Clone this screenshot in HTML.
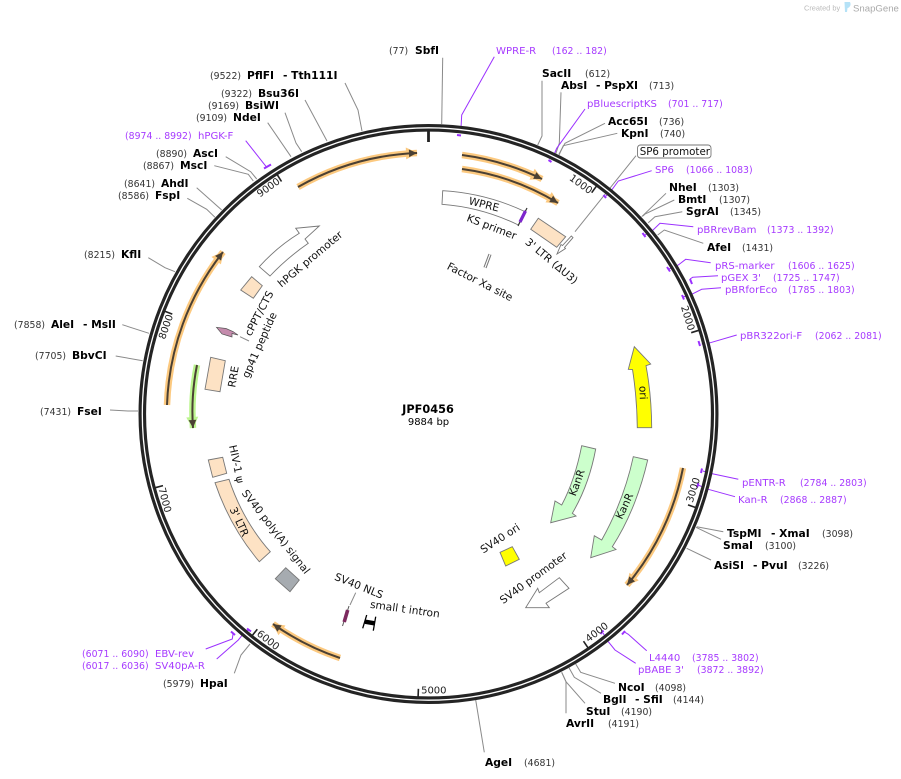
<!DOCTYPE html>
<html>
<head>
<meta charset="utf-8">
<style>
html,body{margin:0;padding:0;background:#fff;width:901px;height:779px;overflow:hidden}
svg{display:block}
text{font-family:"DejaVu Sans","Liberation Sans",sans-serif;fill:#000}
.n{font-size:10.7px;font-weight:bold}
.p{font-size:9.33px;fill:#333}
.m{font-size:10.1px;fill:#a63aff}
.r{font-size:9.33px;fill:#a63aff}
.f{font-size:10.6px;text-anchor:middle;fill:#111}
.t{font-size:10px;text-anchor:middle;fill:#222}
.l{fill:none;stroke:#8a8a8a;stroke-width:1}
.v{fill:none;stroke:#9b30ff;stroke-width:1}
.k{fill:none;stroke:#9b30ff;stroke-width:2}
.b{stroke:#777;stroke-width:.9}
.h{fill:none;stroke:#fcc97f;stroke-width:6.5}
.d{fill:none;stroke:#4b4033;stroke-width:2}
</style>
</head>
<body>
<svg width="901" height="779" viewBox="0 0 901 779" xmlns="http://www.w3.org/2000/svg">
<defs>
<marker id="ho" markerUnits="userSpaceOnUse" markerWidth="18" markerHeight="18" refX="13" refY="9" orient="auto"><path d="M2,3 L14,9 L2,15 Z" fill="#fcc97f"/></marker>
<marker id="da" markerUnits="userSpaceOnUse" markerWidth="14" markerHeight="14" refX="10" refY="7" orient="auto"><path d="M2,3.2 L10,7 L2,10.8 Z" fill="#4b4033"/></marker>
<marker id="hg" markerUnits="userSpaceOnUse" markerWidth="18" markerHeight="18" refX="13" refY="9" orient="auto"><path d="M2,3 L14,9 L2,15 Z" fill="#bcf58f"/></marker>
</defs>

<!-- logo -->
<text x="804" y="10.5" style="font-size:7.4px;fill:#bbb;font-family:'Liberation Sans',sans-serif">Created by</text>
<path d="M844.5,2 L850,2 Q851.5,5 849,7.5 L847.5,8 L847,12 L845,12 Z" fill="#b5e2f7"/>
<text x="853" y="11.5" style="font-size:9.6px;fill:#aaa;font-family:'Liberation Sans',sans-serif">SnapGene</text>

<!-- leader lines -->
<g class="l">
<path d="M442.7,57.7 L441.7,124"/>
<path d="M542,80.7 L542,136 L537.7,145"/>
<path d="M561,92.3 L559.3,143.3 L555.7,154"/>
<path d="M605,123.3 L565,143.3 L559,154"/>
<path d="M617.3,133.3 L563.3,145.7 L559,155"/>
<path d="M636,155.7 L575,231.7"/>
<path d="M666,193.3 L641.7,216.7"/>
<path d="M674.3,200 L645,214 L643,216"/>
<path d="M682.3,211.7 L655,216.7 L648.3,222.7"/>
<path d="M703.3,243.3 L664.3,230 L657.7,235"/>
<path d="M723.3,531.7 L696.7,526.7"/>
<path d="M721,539.3 L696,527.3"/>
<path d="M711,560 L686.7,548.3"/>
<path d="M615,683.3 L580.7,672.3 L575.7,664"/>
<path d="M601,693.3 L574.3,677.3 L569,667.7"/>
<path d="M585,703.3 L566,681.7 L561.7,672.3"/>
<path d="M566,713.3 L566,681.7 L561.7,672.3"/>
<path d="M484.3,752.3 L475.7,700"/>
<path d="M234.3,673.3 L241,655 L250,644"/>
<path d="M110,410 L128,411 L138,411"/>
<path d="M115.7,356 L142.7,360.7"/>
<path d="M122.3,324.7 L149,333.3"/>
<path d="M148.3,257.7 L165,267.7 L175,271.7"/>
<path d="M187.3,198.3 L206.7,209.3 L215,217.3"/>
<path d="M196.7,187.7 L221.7,210"/>
<path d="M214.3,165.7 L248.3,174.3 L253.3,181"/>
<path d="M225.7,156.7 L250.7,171.7 L256.7,179"/>
<path d="M267.7,122.7 L291,156.7"/>
<path d="M285,112.7 L296,143 L301.7,151.7"/>
<path d="M305,100 L327,141"/>
<path d="M345,83 L358,110 L362,131"/>
</g>

<!-- primer leaders -->
<g class="v">
<path d="M494.3,56.7 L461.7,115 L461,128"/>
<path d="M585,109 L556.7,148.3 L553,157"/>
<path d="M651.7,170.7 L618.3,181 L611.7,190 L606,196"/>
<path d="M693.3,226.7 L660,223.3 L652.3,230.7 L645,235"/>
<path d="M710.7,262.7 L685.7,259.3 L678.3,265 L669,269"/>
<path d="M718,275.7 L692.7,277.3 L690,279"/>
<path d="M721,287.7 L701.7,289.3 L691.7,294.3 L683,297"/>
<path d="M736.7,335 L708.3,343.3 L701.7,344"/>
<path d="M738.3,479.3 L710,473.3 L703,471"/>
<path d="M735,496.7 L708.3,489.3 L698,485"/>
<path d="M646.7,650.7 L628.3,634.3 L625,632.3"/>
<path d="M635.7,663.3 L615,650 L608.3,641.7 L603,633"/>
<path d="M205.7,649 L232.3,639 L233,634"/>
<path d="M216.7,659 L238.3,640 L245,631.7 L249,630"/>
<path d="M245.7,140.7 L266.7,167.3"/>
</g>
<g class="k">
<path d="M457,135 L461,135.5"/>
<path d="M548.5,160 L551.5,162"/>
<path d="M603.5,195 L606,198"/>
<path d="M642.5,233 L645.5,237"/>
<path d="M667,267 L670,271.5"/>
<path d="M690,279 L692,284"/>
<path d="M682,295 L684,299.5"/>
<path d="M698.5,341 L700,346"/>
<path d="M702,468.5 L701,473"/>
<path d="M698.5,483 L697,487.5"/>
<path d="M625,631 L622,634.5"/>
<path d="M603.5,630.5 L600.5,634"/>
<path d="M235,635 L231,631.5"/>
<path d="M251,631.5 L247,628.5"/>
<path d="M264,168.5 L271,164.5"/>
</g>

<!-- main ring -->
<circle cx="428.5" cy="414" r="286.2" fill="none" stroke="#242424" stroke-width="7.6"/>
<circle cx="428.5" cy="414" r="286.2" fill="none" stroke="#fff" stroke-width="1.3"/>

<!-- ticks -->
<g fill="none" stroke="#222" stroke-width="1.6">
<path d="M428.5,130.5 L428.5,142" stroke-width="2.8"/>
<path d="M596.4,186.2 L591.7,192.7"/>
<path d="M698.8,330.3 L691.2,332.7"/>
<path d="M695.6,507.5 L688,504.9"/>
<path d="M588,647.8 L583.5,641.2"/>
<path d="M418.1,696.8 L418.4,688.8"/>
<path d="M252.3,635.5 L257.3,629.2"/>
<path d="M155.3,487.7 L163,485.6"/>
<path d="M164.8,311.2 L172.3,314.1"/>
<path d="M277.3,174.8 L281.5,181.5"/>
</g>
<g class="t">
<text class="t" transform="translate(581,184) rotate(36)" dy=".35em">1000</text>
<text class="t" transform="translate(688,318) rotate(73)" dy=".35em">2000</text>
<text class="t" transform="translate(693,490) rotate(-73)" dy=".35em">3000</text>
<text class="t" transform="translate(596.7,632) rotate(-37)" dy=".35em">4000</text>
<text class="t" transform="translate(433.8,690)" dy=".35em">5000</text>
<text class="t" transform="translate(268.3,640) rotate(38)" dy=".35em">6000</text>
<text class="t" transform="translate(165,500) rotate(75)" dy=".35em">7000</text>
<text class="t" transform="translate(165.7,326.7) rotate(-71)" dy=".35em">8000</text>
<text class="t" transform="translate(268.3,187.3) rotate(-35)" dy=".35em">9000</text>
</g>

<!-- primer binding arrows -->
<g>
<path class="h" d="M298,187 A262,262 0 0 1 417,153" marker-end="url(#ho)"/>
<path class="d" d="M298,187 A262,262 0 0 1 417,153" marker-end="url(#da)"/>
<path class="h" d="M462,155 A261,261 0 0 1 542,179" marker-end="url(#ho)"/>
<path class="d" d="M462,155 A261,261 0 0 1 542,179" marker-end="url(#da)"/>
<path class="h" d="M462,169 A248,248 0 0 1 558,203" marker-end="url(#ho)"/>
<path class="d" d="M462,169 A248,248 0 0 1 558,203" marker-end="url(#da)"/>
<path class="h" d="M167,405 A262,262 0 0 1 223,252" marker-end="url(#ho)"/>
<path class="d" d="M167,405 A262,262 0 0 1 223,252" marker-end="url(#da)"/>
<path class="h" d="M197,365 A236,236 0 0 0 193,428" marker-end="url(#hg)" style="stroke:#bcf58f"/>
<path class="d" d="M197,365 A236,236 0 0 0 193,428" marker-end="url(#da)"/>
<path class="h" d="M683,468 A260,260 0 0 1 627,585" marker-end="url(#ho)"/>
<path class="d" d="M683,468 A260,260 0 0 1 627,585" marker-end="url(#da)"/>
<path class="h" d="M340,658 A260,260 0 0 1 273,624" marker-end="url(#ho)"/>
<path class="d" d="M340,658 A260,260 0 0 1 273,624" marker-end="url(#da)"/>
</g>

<!-- features -->
<path class="b" d="M442.7,190.7 A224,224 0 0 1 525,211.6 L518.3,225 A209.5,209.5 0 0 0 442,204.3 Z" fill="#fff"/>
<path d="M518,226 L527,208" stroke="#333" stroke-width="1.2" fill="none"/>
<path d="M520,222 L525.5,211" stroke="#7d26cd" stroke-width="3.2" fill="none"/>
<path class="b" d="M538.3,218.3 L565.7,236.7 L556.7,247.3 L530.7,229.3 Z" fill="#fde2c4"/>
<path class="b" d="M571.3,236 L573,237.6 L564.5,247.5 L565.5,248.5 L557,254 L561,244.5 L562.5,245.5 Z" fill="#fff"/>
<path d="M490,254.3 L485,267.7" stroke="#777" stroke-width="3.2" fill="none"/>
<path d="M490,254.3 L485,267.7" stroke="#fff" stroke-width="1.2" fill="none"/>

<path class="b" d="M634.3,346.7 L650.7,364 L646,365.7 Q651.5,395 651.7,427.7 L637.3,427.7 Q637,398 632.5,369.5 L628.3,369.3 Z" fill="#ffff00"/>
<path class="b" d="M581.7,445.7 L595.7,449 Q589,485 572.3,513.3 L576,516 L550.7,522.7 L555,501 L561.7,505 Q575,480 581.7,445.7 Z" fill="#ccffcc"/>
<path class="b" d="M633.3,456.7 L647.7,460 Q636,510 612.3,546.7 L616,549.5 L590.7,557.7 L594.3,535.7 L601.7,540 Q624,500 633.3,456.7 Z" fill="#ccffcc"/>
<path class="b" d="M512.3,546.7 L519.3,559.3 L505.7,566 L500,552.3 Z" fill="#ffff00"/>
<path class="b" d="M559.3,577.7 L569,588.3 L546,603.3 L549.3,607.7 L525.7,607.7 L537.7,588.3 L539.3,592.7 Z" fill="#fff"/>
<path class="b" d="M259.3,266.7 L270,276 Q287,258 308.3,243.3 L305,239 L319.3,226 L295.7,228.3 L299.3,233.3 Q277,247 259.3,266.7 Z" fill="#fff"/>
<path class="b" d="M251.7,276.7 L262.3,285.7 L253.3,298.3 L240.7,290 Z" fill="#fde2c4"/>
<path d="M216.5,327.3 L226,328.5 L233,331.5 L238,335 L232,333.5 L232,337 L222,334 Z" fill="#c48bac" stroke="#555" stroke-width=".7"/>
<path class="l" d="M240,336.7 L249,341"/>
<path class="b" d="M210.7,357.3 L225.3,360.7 L220,391.7 L205,389.3 Z" fill="#fde2c4"/>
<path class="b" d="M208.3,460 L222.7,457.3 L226.7,473.3 L212.7,477.3 Z" fill="#fde2c4"/>
<path class="b" d="M215,482.7 L229,479.3 Q243,521 270.3,551.7 L259.3,561.7 Q230,527 215,482.7 Z" fill="#fde2c4"/>
<path class="b" d="M285.7,567.7 L299.3,580 L290,591.7 L275.3,578.7 Z" fill="#a6abb0"/>
<path class="l" d="M355.7,592.7 L350,605"/>
<path d="M349,606 L342.5,626" stroke="#555" stroke-width="1" fill="none"/>
<path d="M347.7,610 L344.2,622" stroke="#7d2a5f" stroke-width="3.6" fill="none"/>
<g stroke="#000" fill="none">
<path d="M366.7,615 L362.7,628.3" stroke-width="1.3"/>
<path d="M375.7,616.7 L373.3,630.7" stroke-width="1.3"/>
<path d="M365,621.7 L374.5,623.3" stroke-width="4.5"/>
</g>

<!-- feature labels -->
<text class="f" transform="translate(484,204.3) rotate(14)" dy=".35em">WPRE</text>
<text class="f" transform="translate(491.7,226.7) rotate(21)" dy=".35em">KS primer</text>
<text class="f" transform="translate(551.7,261) rotate(40)" dy=".35em">3' LTR (ΔU3)</text>
<text class="f" transform="translate(480,281.7) rotate(27)" dy=".35em">Factor Xa site</text>
<text class="f" transform="translate(643.3,392.7) rotate(88)" dy=".35em">ori</text>
<text class="f" transform="translate(576.7,482.7) rotate(-70)" dy=".35em">KanR</text>
<text class="f" transform="translate(624.3,506) rotate(-65)" dy=".35em">KanR</text>
<text class="f" transform="translate(500,538.3) rotate(-33)" dy=".35em">SV40 ori</text>
<text class="f" transform="translate(533.3,577.7) rotate(-36)" dy=".35em">SV40 promoter</text>
<text class="f" transform="translate(310,259) rotate(-40)" dy=".35em">hPGK promoter</text>
<text class="f" transform="translate(259,313.3) rotate(-62)" dy=".35em">cPPT/CTS</text>
<text class="f" transform="translate(259.3,345) rotate(-66)" dy=".35em">gp41 peptide</text>
<text class="f" transform="translate(233.3,376.7) rotate(-80)" dy=".35em">RRE</text>
<text class="f" transform="translate(236.7,464) rotate(78)" dy=".35em">HIV-1 ψ</text>
<text class="f" transform="translate(239.3,521.7) rotate(65)" dy=".35em">3' LTR</text>
<text class="f" transform="translate(276,531.7) rotate(52)" dy=".35em">SV40 poly(A) signal</text>
<text class="f" transform="translate(359,585.7) rotate(22)" dy=".35em">SV40 NLS</text>
<text class="f" transform="translate(405,609) rotate(8)" dy=".35em">small t intron</text>

<!-- SP6 promoter box -->
<rect x="637.5" y="145" width="73.5" height="13" rx="3" fill="#fff" stroke="#777" stroke-width=".9"/>
<text x="639.7" y="155" style="font-size:10.3px;fill:#111">SP6 promoter</text>

<!-- center -->
<text x="428" y="413" text-anchor="middle" style="font-size:11.3px;font-weight:bold">JPF0456</text>
<text x="428.5" y="425" text-anchor="middle" style="font-size:10px">9884 bp</text>

<!-- site labels -->
<text class="p" x="389" y="54">(77)</text><text class="n" x="415" y="54">SbfI</text>
<text class="m" x="496" y="54">WPRE-R</text><text class="r" x="552" y="54">(162 .. 182)</text>
<text class="n" x="542" y="77">SacII</text><text class="p" x="585" y="77">(612)</text>
<text class="n" x="561" y="89">AbsI</text><text class="n" x="596" y="89">- PspXI</text><text class="p" x="649" y="89">(713)</text>
<text class="m" x="587" y="107">pBluescriptKS</text><text class="r" x="668" y="107">(701 .. 717)</text>
<text class="n" x="608" y="125">Acc65I</text><text class="p" x="659" y="125">(736)</text>
<text class="n" x="621" y="137">KpnI</text><text class="p" x="660" y="137">(740)</text>
<text class="m" x="655" y="173">SP6</text><text class="r" x="686" y="173">(1066 .. 1083)</text>
<text class="n" x="669" y="191">NheI</text><text class="p" x="708" y="191">(1303)</text>
<text class="n" x="678" y="203">BmtI</text><text class="p" x="719" y="203">(1307)</text>
<text class="n" x="686" y="215">SgrAI</text><text class="p" x="730" y="215">(1345)</text>
<text class="m" x="697" y="233">pBRrevBam</text><text class="r" x="767" y="233">(1373 .. 1392)</text>
<text class="n" x="707" y="251">AfeI</text><text class="p" x="742" y="251">(1431)</text>
<text class="m" x="715" y="269">pRS-marker</text><text class="r" x="788" y="269">(1606 .. 1625)</text>
<text class="m" x="721" y="281">pGEX 3'</text><text class="r" x="773" y="281">(1725 .. 1747)</text>
<text class="m" x="725" y="293">pBRforEco</text><text class="r" x="788" y="293">(1785 .. 1803)</text>
<text class="m" x="740" y="339">pBR322ori-F</text><text class="r" x="815" y="339">(2062 .. 2081)</text>
<text class="m" x="742" y="486">pENTR-R</text><text class="r" x="800" y="486">(2784 .. 2803)</text>
<text class="m" x="738" y="503">Kan-R</text><text class="r" x="780" y="503">(2868 .. 2887)</text>
<text class="n" x="727" y="537">TspMI</text><text class="n" x="771" y="537">- XmaI</text><text class="p" x="822" y="537">(3098)</text>
<text class="n" x="723" y="549">SmaI</text><text class="p" x="765" y="549">(3100)</text>
<text class="n" x="714" y="569">AsiSI</text><text class="n" x="753" y="569">- PvuI</text><text class="p" x="798" y="569">(3226)</text>
<text class="m" x="649" y="661">L4440</text><text class="r" x="692" y="661">(3785 .. 3802)</text>
<text class="m" x="638" y="673">pBABE 3'</text><text class="r" x="697" y="673">(3872 .. 3892)</text>
<text class="n" x="618" y="691">NcoI</text><text class="p" x="655" y="691">(4098)</text>
<text class="n" x="603" y="703">BglI</text><text class="n" x="635" y="703">- SfiI</text><text class="p" x="673" y="703">(4144)</text>
<text class="n" x="586" y="715">StuI</text><text class="p" x="621" y="715">(4190)</text>
<text class="n" x="566" y="727">AvrII</text><text class="p" x="608" y="727">(4191)</text>
<text class="n" x="485" y="766">AgeI</text><text class="p" x="524" y="766">(4681)</text>
<text class="p" x="163" y="687">(5979)</text><text class="n" x="200" y="687">HpaI</text>
<text class="r" x="82" y="657">(6071 .. 6090)</text><text class="m" x="155" y="657">EBV-rev</text>
<text class="r" x="82" y="669">(6017 .. 6036)</text><text class="m" x="155" y="669">SV40pA-R</text>
<text class="p" x="40" y="415">(7431)</text><text class="n" x="77" y="415">FseI</text>
<text class="p" x="35" y="359">(7705)</text><text class="n" x="72" y="359">BbvCI</text>
<text class="p" x="14" y="328">(7858)</text><text class="n" x="51" y="328">AleI</text><text class="n" x="83" y="328">- MslI</text>
<text class="p" x="84" y="258">(8215)</text><text class="n" x="121" y="258">KflI</text>
<text class="p" x="118" y="199">(8586)</text><text class="n" x="155" y="199">FspI</text>
<text class="p" x="124" y="187">(8641)</text><text class="n" x="161" y="187">AhdI</text>
<text class="p" x="143" y="169">(8867)</text><text class="n" x="180" y="169">MscI</text>
<text class="p" x="156" y="157">(8890)</text><text class="n" x="193" y="157">AscI</text>
<text class="r" x="125" y="139">(8974 .. 8992)</text><text class="m" x="198" y="139">hPGK-F</text>
<text class="p" x="196" y="121">(9109)</text><text class="n" x="233" y="121">NdeI</text>
<text class="p" x="208" y="109">(9169)</text><text class="n" x="245" y="109">BsiWI</text>
<text class="p" x="221" y="97">(9322)</text><text class="n" x="258" y="97">Bsu36I</text>
<text class="p" x="210" y="79">(9522)</text><text class="n" x="247" y="79">PflFI</text><text class="n" x="283" y="79">- Tth111I</text>
</svg>
</body>
</html>
